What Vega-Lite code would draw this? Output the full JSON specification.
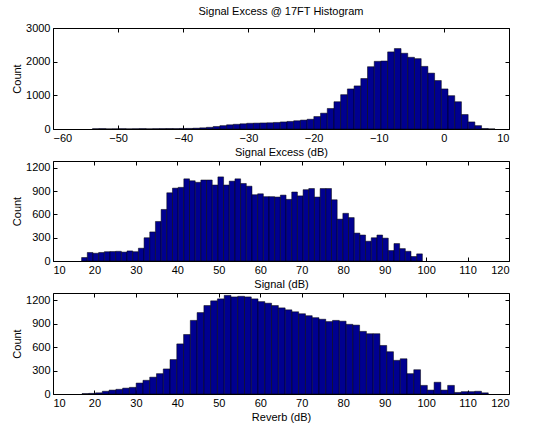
{
"$schema": "https://vega.github.io/schema/vega-lite/v6.json",
"background": "white",
"padding": {"left": 11, "top": 5, "right": 5, "bottom": 5},
"spacing": 2,
"config": {
  "font": "Liberation Sans",
  "view": {"stroke": "black", "strokeWidth": 1},
  "axis": {"labelFont": "Liberation Sans", "labelFontSize": 11, "labelColor": "black", "titleFont": "Liberation Sans", "titleFontSize": 11, "titleFontWeight": "normal", "titleColor": "black", "grid": false, "domain": false, "tickColor": "black", "tickSize": -4, "labelPadding": 7, "titlePadding": 3, "format": "d"},
  "title": {"font": "Liberation Sans", "fontSize": 11, "fontWeight": "normal", "color": "black"}
},
"datasets": {
  "se": [
    {"lo": -53.95, "hi": -52.92, "n": 8}, {"lo": -52.92, "hi": -51.89, "n": 12}, {"lo": -51.89, "hi": -50.86, "n": 4}, {"lo": -50.86, "hi": -49.83, "n": 6},
    {"lo": -49.83, "hi": -48.80, "n": 10}, {"lo": -48.80, "hi": -47.77, "n": 5}, {"lo": -47.77, "hi": -46.74, "n": 8}, {"lo": -46.74, "hi": -45.71, "n": 12},
    {"lo": -45.71, "hi": -44.68, "n": 6}, {"lo": -44.68, "hi": -43.65, "n": 10}, {"lo": -43.65, "hi": -42.62, "n": 12}, {"lo": -42.62, "hi": -41.59, "n": 14},
    {"lo": -41.59, "hi": -40.56, "n": 12}, {"lo": -40.56, "hi": -39.53, "n": 16}, {"lo": -39.53, "hi": -38.50, "n": 18}, {"lo": -38.50, "hi": -37.47, "n": 25},
    {"lo": -37.47, "hi": -36.44, "n": 35}, {"lo": -36.44, "hi": -35.41, "n": 50}, {"lo": -35.41, "hi": -34.38, "n": 75}, {"lo": -34.38, "hi": -33.35, "n": 100},
    {"lo": -33.35, "hi": -32.32, "n": 125}, {"lo": -32.32, "hi": -31.29, "n": 140}, {"lo": -31.29, "hi": -30.26, "n": 155}, {"lo": -30.26, "hi": -29.23, "n": 170},
    {"lo": -29.23, "hi": -28.20, "n": 175}, {"lo": -28.20, "hi": -27.17, "n": 180}, {"lo": -27.17, "hi": -26.14, "n": 185}, {"lo": -26.14, "hi": -25.11, "n": 195},
    {"lo": -25.11, "hi": -24.08, "n": 210}, {"lo": -24.08, "hi": -23.05, "n": 225}, {"lo": -23.05, "hi": -22.02, "n": 245}, {"lo": -22.02, "hi": -20.99, "n": 265},
    {"lo": -20.99, "hi": -19.96, "n": 290}, {"lo": -19.96, "hi": -18.93, "n": 370}, {"lo": -18.93, "hi": -17.90, "n": 470}, {"lo": -17.90, "hi": -16.87, "n": 610},
    {"lo": -16.87, "hi": -15.84, "n": 810}, {"lo": -15.84, "hi": -14.81, "n": 1020}, {"lo": -14.81, "hi": -13.78, "n": 1190}, {"lo": -13.78, "hi": -12.75, "n": 1280},
    {"lo": -12.75, "hi": -11.72, "n": 1500}, {"lo": -11.72, "hi": -10.69, "n": 1850}, {"lo": -10.69, "hi": -9.66, "n": 2010}, {"lo": -9.66, "hi": -8.63, "n": 2020},
    {"lo": -8.63, "hi": -7.60, "n": 2290}, {"lo": -7.60, "hi": -6.57, "n": 2390}, {"lo": -6.57, "hi": -5.54, "n": 2250}, {"lo": -5.54, "hi": -4.51, "n": 2130},
    {"lo": -4.51, "hi": -3.48, "n": 2090}, {"lo": -3.48, "hi": -2.45, "n": 1860}, {"lo": -2.45, "hi": -1.42, "n": 1660}, {"lo": -1.42, "hi": -0.39, "n": 1440},
    {"lo": -0.39, "hi": 0.64, "n": 1190}, {"lo": 0.64, "hi": 1.67, "n": 990}, {"lo": 1.67, "hi": 2.70, "n": 810}, {"lo": 2.70, "hi": 3.73, "n": 430},
    {"lo": 3.73, "hi": 4.76, "n": 210}, {"lo": 4.76, "hi": 5.79, "n": 100}, {"lo": 5.79, "hi": 6.82, "n": 15}, {"lo": 6.82, "hi": 7.85, "n": 3}
  ],
  "sig": [
    {"lo": 16.90, "hi": 18.27, "n": 45}, {"lo": 18.27, "hi": 19.64, "n": 110}, {"lo": 19.64, "hi": 21.01, "n": 100}, {"lo": 21.01, "hi": 22.38, "n": 110},
    {"lo": 22.38, "hi": 23.75, "n": 120}, {"lo": 23.75, "hi": 25.12, "n": 122}, {"lo": 25.12, "hi": 26.49, "n": 125}, {"lo": 26.49, "hi": 27.86, "n": 115},
    {"lo": 27.86, "hi": 29.23, "n": 130}, {"lo": 29.23, "hi": 30.60, "n": 120}, {"lo": 30.60, "hi": 31.97, "n": 165}, {"lo": 31.97, "hi": 33.34, "n": 300},
    {"lo": 33.34, "hi": 34.71, "n": 375}, {"lo": 34.71, "hi": 36.08, "n": 510}, {"lo": 36.08, "hi": 37.45, "n": 665}, {"lo": 37.45, "hi": 38.82, "n": 880},
    {"lo": 38.82, "hi": 40.19, "n": 940}, {"lo": 40.19, "hi": 41.56, "n": 950}, {"lo": 41.56, "hi": 42.93, "n": 1060}, {"lo": 42.93, "hi": 44.30, "n": 1035},
    {"lo": 44.30, "hi": 45.67, "n": 1015}, {"lo": 45.67, "hi": 47.04, "n": 1045}, {"lo": 47.04, "hi": 48.41, "n": 1045}, {"lo": 48.41, "hi": 49.78, "n": 980},
    {"lo": 49.78, "hi": 51.15, "n": 1085}, {"lo": 51.15, "hi": 52.52, "n": 980}, {"lo": 52.52, "hi": 53.89, "n": 1030}, {"lo": 53.89, "hi": 55.26, "n": 1060},
    {"lo": 55.26, "hi": 56.63, "n": 1000}, {"lo": 56.63, "hi": 58.00, "n": 965}, {"lo": 58.00, "hi": 59.37, "n": 855}, {"lo": 59.37, "hi": 60.74, "n": 867},
    {"lo": 60.74, "hi": 62.11, "n": 830}, {"lo": 62.11, "hi": 63.48, "n": 830}, {"lo": 63.48, "hi": 64.85, "n": 825}, {"lo": 64.85, "hi": 66.22, "n": 850},
    {"lo": 66.22, "hi": 67.59, "n": 795}, {"lo": 67.59, "hi": 68.96, "n": 890}, {"lo": 68.96, "hi": 70.33, "n": 840}, {"lo": 70.33, "hi": 71.70, "n": 920},
    {"lo": 71.70, "hi": 73.07, "n": 935}, {"lo": 73.07, "hi": 74.44, "n": 825}, {"lo": 74.44, "hi": 75.81, "n": 935}, {"lo": 75.81, "hi": 77.18, "n": 935},
    {"lo": 77.18, "hi": 78.55, "n": 790}, {"lo": 78.55, "hi": 79.92, "n": 540}, {"lo": 79.92, "hi": 81.29, "n": 615}, {"lo": 81.29, "hi": 82.66, "n": 560},
    {"lo": 82.66, "hi": 84.03, "n": 360}, {"lo": 84.03, "hi": 85.40, "n": 335}, {"lo": 85.40, "hi": 86.77, "n": 255}, {"lo": 86.77, "hi": 88.14, "n": 300},
    {"lo": 88.14, "hi": 89.51, "n": 335}, {"lo": 89.51, "hi": 90.88, "n": 295}, {"lo": 90.88, "hi": 92.25, "n": 135}, {"lo": 92.25, "hi": 93.62, "n": 225},
    {"lo": 93.62, "hi": 94.99, "n": 160}, {"lo": 94.99, "hi": 96.36, "n": 125}, {"lo": 96.36, "hi": 97.73, "n": 58}, {"lo": 97.73, "hi": 99.10, "n": 92}
  ],
  "rev": [
    {"lo": 17.00, "hi": 18.63, "n": 5}, {"lo": 18.63, "hi": 20.27, "n": 8}, {"lo": 20.27, "hi": 21.90, "n": 15}, {"lo": 21.90, "hi": 23.53, "n": 35},
    {"lo": 23.53, "hi": 25.17, "n": 50}, {"lo": 25.17, "hi": 26.80, "n": 60}, {"lo": 26.80, "hi": 28.43, "n": 75}, {"lo": 28.43, "hi": 30.06, "n": 85},
    {"lo": 30.06, "hi": 31.70, "n": 140}, {"lo": 31.70, "hi": 33.33, "n": 175}, {"lo": 33.33, "hi": 34.96, "n": 215}, {"lo": 34.96, "hi": 36.60, "n": 260},
    {"lo": 36.60, "hi": 38.23, "n": 320}, {"lo": 38.23, "hi": 39.86, "n": 440}, {"lo": 39.86, "hi": 41.50, "n": 640}, {"lo": 41.50, "hi": 43.13, "n": 760},
    {"lo": 43.13, "hi": 44.76, "n": 940}, {"lo": 44.76, "hi": 46.40, "n": 1040}, {"lo": 46.40, "hi": 48.03, "n": 1130}, {"lo": 48.03, "hi": 49.66, "n": 1190},
    {"lo": 49.66, "hi": 51.30, "n": 1215}, {"lo": 51.30, "hi": 52.93, "n": 1260}, {"lo": 52.93, "hi": 54.56, "n": 1240}, {"lo": 54.56, "hi": 56.20, "n": 1248},
    {"lo": 56.20, "hi": 57.83, "n": 1240}, {"lo": 57.83, "hi": 59.46, "n": 1215}, {"lo": 59.46, "hi": 61.10, "n": 1180}, {"lo": 61.10, "hi": 62.73, "n": 1160},
    {"lo": 62.73, "hi": 64.36, "n": 1130}, {"lo": 64.36, "hi": 66.00, "n": 1100}, {"lo": 66.00, "hi": 67.63, "n": 1075}, {"lo": 67.63, "hi": 69.26, "n": 1050},
    {"lo": 69.26, "hi": 70.90, "n": 1025}, {"lo": 70.90, "hi": 72.53, "n": 1000}, {"lo": 72.53, "hi": 74.16, "n": 975}, {"lo": 74.16, "hi": 75.80, "n": 955},
    {"lo": 75.80, "hi": 77.43, "n": 925}, {"lo": 77.43, "hi": 79.06, "n": 940}, {"lo": 79.06, "hi": 80.70, "n": 930}, {"lo": 80.70, "hi": 82.33, "n": 890},
    {"lo": 82.33, "hi": 83.96, "n": 880}, {"lo": 83.96, "hi": 85.60, "n": 800}, {"lo": 85.60, "hi": 87.23, "n": 770}, {"lo": 87.23, "hi": 88.86, "n": 770},
    {"lo": 88.86, "hi": 90.50, "n": 620}, {"lo": 90.50, "hi": 92.13, "n": 540}, {"lo": 92.13, "hi": 93.76, "n": 430}, {"lo": 93.76, "hi": 95.40, "n": 450},
    {"lo": 95.40, "hi": 97.03, "n": 260}, {"lo": 97.03, "hi": 98.66, "n": 310}, {"lo": 98.66, "hi": 100.30, "n": 110}, {"lo": 100.30, "hi": 101.93, "n": 50},
    {"lo": 101.93, "hi": 103.56, "n": 150}, {"lo": 103.56, "hi": 105.20, "n": 50}, {"lo": 105.20, "hi": 106.83, "n": 110}, {"lo": 106.83, "hi": 108.46, "n": 20},
    {"lo": 108.46, "hi": 110.10, "n": 30}, {"lo": 110.10, "hi": 111.73, "n": 30}, {"lo": 111.73, "hi": 113.36, "n": 35}, {"lo": 113.36, "hi": 115.00, "n": 15}
  ]
},
"vconcat": [
  {
    "title": {"text": "Signal Excess @ 17FT Histogram", "offset": 5},
    "width": 456, "height": 101,
    "data": {"name": "se"},
    "resolve": {"axis": {"x": "independent", "y": "independent"}},
    "layer": [
      {
        "mark": {"type": "bar", "fill": "#000090", "stroke": "#000000", "strokeWidth": 0.5},
        "encoding": {
          "x": {"field": "lo", "type": "quantitative", "scale": {"domain": [-60, 10], "nice": false, "zero": false}, "axis": {"values": [-60, -50, -40, -30, -20, -10, 0, 10], "title": "Signal Excess (dB)"}},
          "x2": {"field": "hi"},
          "y": {"field": "n", "type": "quantitative", "scale": {"domain": [0, 3000], "nice": false}, "axis": {"values": [0, 1000, 2000, 3000], "title": "Count"}},
          "y2": {"datum": 0}
        }
      },
      {
        "mark": {"type": "bar", "opacity": 0},
        "encoding": {
          "x": {"field": "lo", "type": "quantitative", "scale": {"domain": [-60, 10], "nice": false, "zero": false}, "axis": {"orient": "top", "values": [-60, -50, -40, -30, -20, -10, 0, 10], "labels": false, "title": null}},
          "x2": {"field": "hi"},
          "y": {"field": "n", "type": "quantitative", "scale": {"domain": [0, 3000], "nice": false}, "axis": {"orient": "right", "values": [0, 1000, 2000, 3000], "labels": false, "title": null}},
          "y2": {"datum": 0}
        }
      }
    ]
  },
  {
    "width": 456, "height": 100,
    "data": {"name": "sig"},
    "resolve": {"axis": {"x": "independent", "y": "independent"}},
    "layer": [
      {
        "mark": {"type": "bar", "fill": "#000090", "stroke": "#000000", "strokeWidth": 0.5},
        "encoding": {
          "x": {"field": "lo", "type": "quantitative", "scale": {"domain": [10, 120], "nice": false, "zero": false}, "axis": {"values": [10, 20, 30, 40, 50, 60, 70, 80, 90, 100, 110, 120], "title": "Signal (dB)"}},
          "x2": {"field": "hi"},
          "y": {"field": "n", "type": "quantitative", "scale": {"domain": [0, 1290], "nice": false}, "axis": {"values": [0, 300, 600, 900, 1200], "title": "Count"}},
          "y2": {"datum": 0}
        }
      },
      {
        "mark": {"type": "bar", "opacity": 0},
        "encoding": {
          "x": {"field": "lo", "type": "quantitative", "scale": {"domain": [10, 120], "nice": false, "zero": false}, "axis": {"orient": "top", "values": [10, 20, 30, 40, 50, 60, 70, 80, 90, 100, 110, 120], "labels": false, "title": null}},
          "x2": {"field": "hi"},
          "y": {"field": "n", "type": "quantitative", "scale": {"domain": [0, 1290], "nice": false}, "axis": {"orient": "right", "values": [0, 300, 600, 900, 1200], "labels": false, "title": null}},
          "y2": {"datum": 0}
        }
      }
    ]
  },
  {
    "width": 456, "height": 101,
    "data": {"name": "rev"},
    "resolve": {"axis": {"x": "independent", "y": "independent"}},
    "layer": [
      {
        "mark": {"type": "bar", "fill": "#000090", "stroke": "#000000", "strokeWidth": 0.5},
        "encoding": {
          "x": {"field": "lo", "type": "quantitative", "scale": {"domain": [10, 120], "nice": false, "zero": false}, "axis": {"values": [10, 20, 30, 40, 50, 60, 70, 80, 90, 100, 110, 120], "title": "Reverb (dB)"}},
          "x2": {"field": "hi"},
          "y": {"field": "n", "type": "quantitative", "scale": {"domain": [0, 1290], "nice": false}, "axis": {"values": [0, 300, 600, 900, 1200], "title": "Count"}},
          "y2": {"datum": 0}
        }
      },
      {
        "mark": {"type": "bar", "opacity": 0},
        "encoding": {
          "x": {"field": "lo", "type": "quantitative", "scale": {"domain": [10, 120], "nice": false, "zero": false}, "axis": {"orient": "top", "values": [10, 20, 30, 40, 50, 60, 70, 80, 90, 100, 110, 120], "labels": false, "title": null}},
          "x2": {"field": "hi"},
          "y": {"field": "n", "type": "quantitative", "scale": {"domain": [0, 1290], "nice": false}, "axis": {"orient": "right", "values": [0, 300, 600, 900, 1200], "labels": false, "title": null}},
          "y2": {"datum": 0}
        }
      }
    ]
  }
]
}
